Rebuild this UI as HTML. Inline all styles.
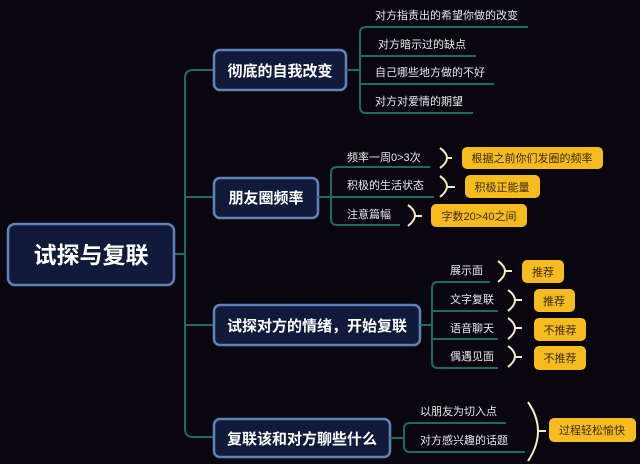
<!DOCTYPE html>
<html><head><meta charset="utf-8"><style>
html,body{margin:0;padding:0;background:#0a0610;}
svg{display:block}
text{font-family:"Liberation Sans","Noto Sans CJK SC",sans-serif;}
.b{fill:#111a3a;stroke:#5f82b8;stroke-width:2.5}
.bt{fill:#fff;font-weight:bold;font-size:15px}
.ct{fill:#e8e8e8;font-size:11px}
.l{stroke:#1d6a62;stroke-width:2;fill:none}
.y{fill:#f6bb1e}
.yt{fill:#3a2e10;font-size:11px}
.br{stroke:#f3ecc0;stroke-width:2;fill:none}
</style></head><body>
<svg width="640" height="464" viewBox="0 0 640 464" xmlns="http://www.w3.org/2000/svg">
<rect width="640" height="464" fill="#0a0610"/>
<!-- trunk -->
<path class="l" stroke-width="3" d="M175 254 H185 M193 70 H214 M185 78 Q185 70 193 70 M185 78 V429 Q185 437 193 437 H214 M185 197 H214 M185 325 H214"/>
<!-- root -->
<rect x="8" y="224" width="166" height="61" rx="7" class="b" stroke-width="3"/>
<text x="91" y="263" text-anchor="middle" fill="#fff" font-weight="bold" font-size="23">试探与复联</text>
<!-- branches -->
<rect x="214" y="50" width="132" height="40" rx="6" class="b"/>
<text x="280" y="76" text-anchor="middle" class="bt">彻底的自我改变</text>
<rect x="214" y="178" width="104" height="40" rx="6" class="b"/>
<text x="266" y="203" text-anchor="middle" class="bt">朋友圈频率</text>
<rect x="214" y="305" width="206" height="40" rx="6" class="b"/>
<text x="317" y="331" text-anchor="middle" class="bt">试探对方的情绪，开始复联</text>
<rect x="214" y="419" width="176" height="38" rx="6" class="b"/>
<text x="302" y="444" text-anchor="middle" class="bt">复联该和对方聊些什么</text>
<!-- box1 children -->
<path class="l" d="M346 70 H360 M366 27 Q360 27 360 33 V107 Q360 113 366 113 H473 M360 56 H476 M360 84 H494 M366 27 H528"/>
<text x="375" y="19" class="ct">对方指责出的希望你做的改变</text>
<text x="378" y="48" class="ct">对方暗示过的缺点</text>
<text x="375" y="76" class="ct">自己哪些地方做的不好</text>
<text x="375" y="105" class="ct">对方对爱情的期望</text>
<!-- box2 children -->
<path class="l" d="M318 197 H331 M337 167 Q331 167 331 173 V219 Q331 225 337 225 H400 M331 197 H434 M337 167 H430"/>
<text x="347" y="161" class="ct">频率一周0>3次</text>
<text x="347" y="189" class="ct">积极的生活状态</text>
<text x="347" y="218" class="ct">注意篇幅</text>
<path class="br" d="M440 148 Q454 158 440 168 M447 158 H452 M440 176 Q454 186 440 197 M447 187 H455 M408 205 Q422 215 408 226 M415 216 H422"/>
<rect x="462" y="147" width="141" height="22" rx="5" class="y"/><text x="532" y="162" text-anchor="middle" class="yt">根据之前你们发圈的频率</text>
<rect x="465" y="175" width="75" height="23" rx="5" class="y"/><text x="502" y="191" text-anchor="middle" class="yt">积极正能量</text>
<rect x="431" y="204" width="96" height="23" rx="5" class="y"/><text x="479" y="220" text-anchor="middle" class="yt">字数20>40之间</text>
<!-- box3 children -->
<path class="l" d="M420 325 H432 M438 282 Q432 282 432 288 V362 Q432 368 438 368 H498 M432 311 H498 M432 339 H498 M438 282 H490"/>
<text x="450" y="274" class="ct">展示面</text>
<text x="450" y="303" class="ct">文字复联</text>
<text x="450" y="332" class="ct">语音聊天</text>
<text x="450" y="360" class="ct">偶遇见面</text>
<path class="br" d="M498 261 Q512 271 498 282 M505 271 H512 M508 290 Q522 300 508 311 M515 300 H522 M508 318 Q522 328 508 339 M515 328 H522 M508 346 Q522 356 508 367 M515 357 H522"/>
<rect x="522" y="260" width="42" height="23" rx="5" class="y"/><text x="543" y="276" text-anchor="middle" class="yt">推荐</text>
<rect x="534" y="289" width="41" height="23" rx="5" class="y"/><text x="554" y="305" text-anchor="middle" class="yt">推荐</text>
<rect x="534" y="318" width="52" height="23" rx="5" class="y"/><text x="560" y="334" text-anchor="middle" class="yt">不推荐</text>
<rect x="534" y="346" width="52" height="24" rx="5" class="y"/><text x="560" y="362" text-anchor="middle" class="yt">不推荐</text>
<!-- box4 children -->
<path class="l" d="M390 438 H404 M410 423 Q404 423 404 429 V446 Q404 452 410 452 H525 M410 423 H506"/>
<text x="420" y="415" class="ct">以朋友为切入点</text>
<text x="420" y="444" class="ct">对方感兴趣的话题</text>
<path class="br" d="M528 402 Q548 431 528 461 M538 431 H546"/>
<rect x="549" y="418" width="87" height="24" rx="5" class="y"/><text x="592" y="434" text-anchor="middle" class="yt">过程轻松愉快</text>
</svg>
</body></html>
